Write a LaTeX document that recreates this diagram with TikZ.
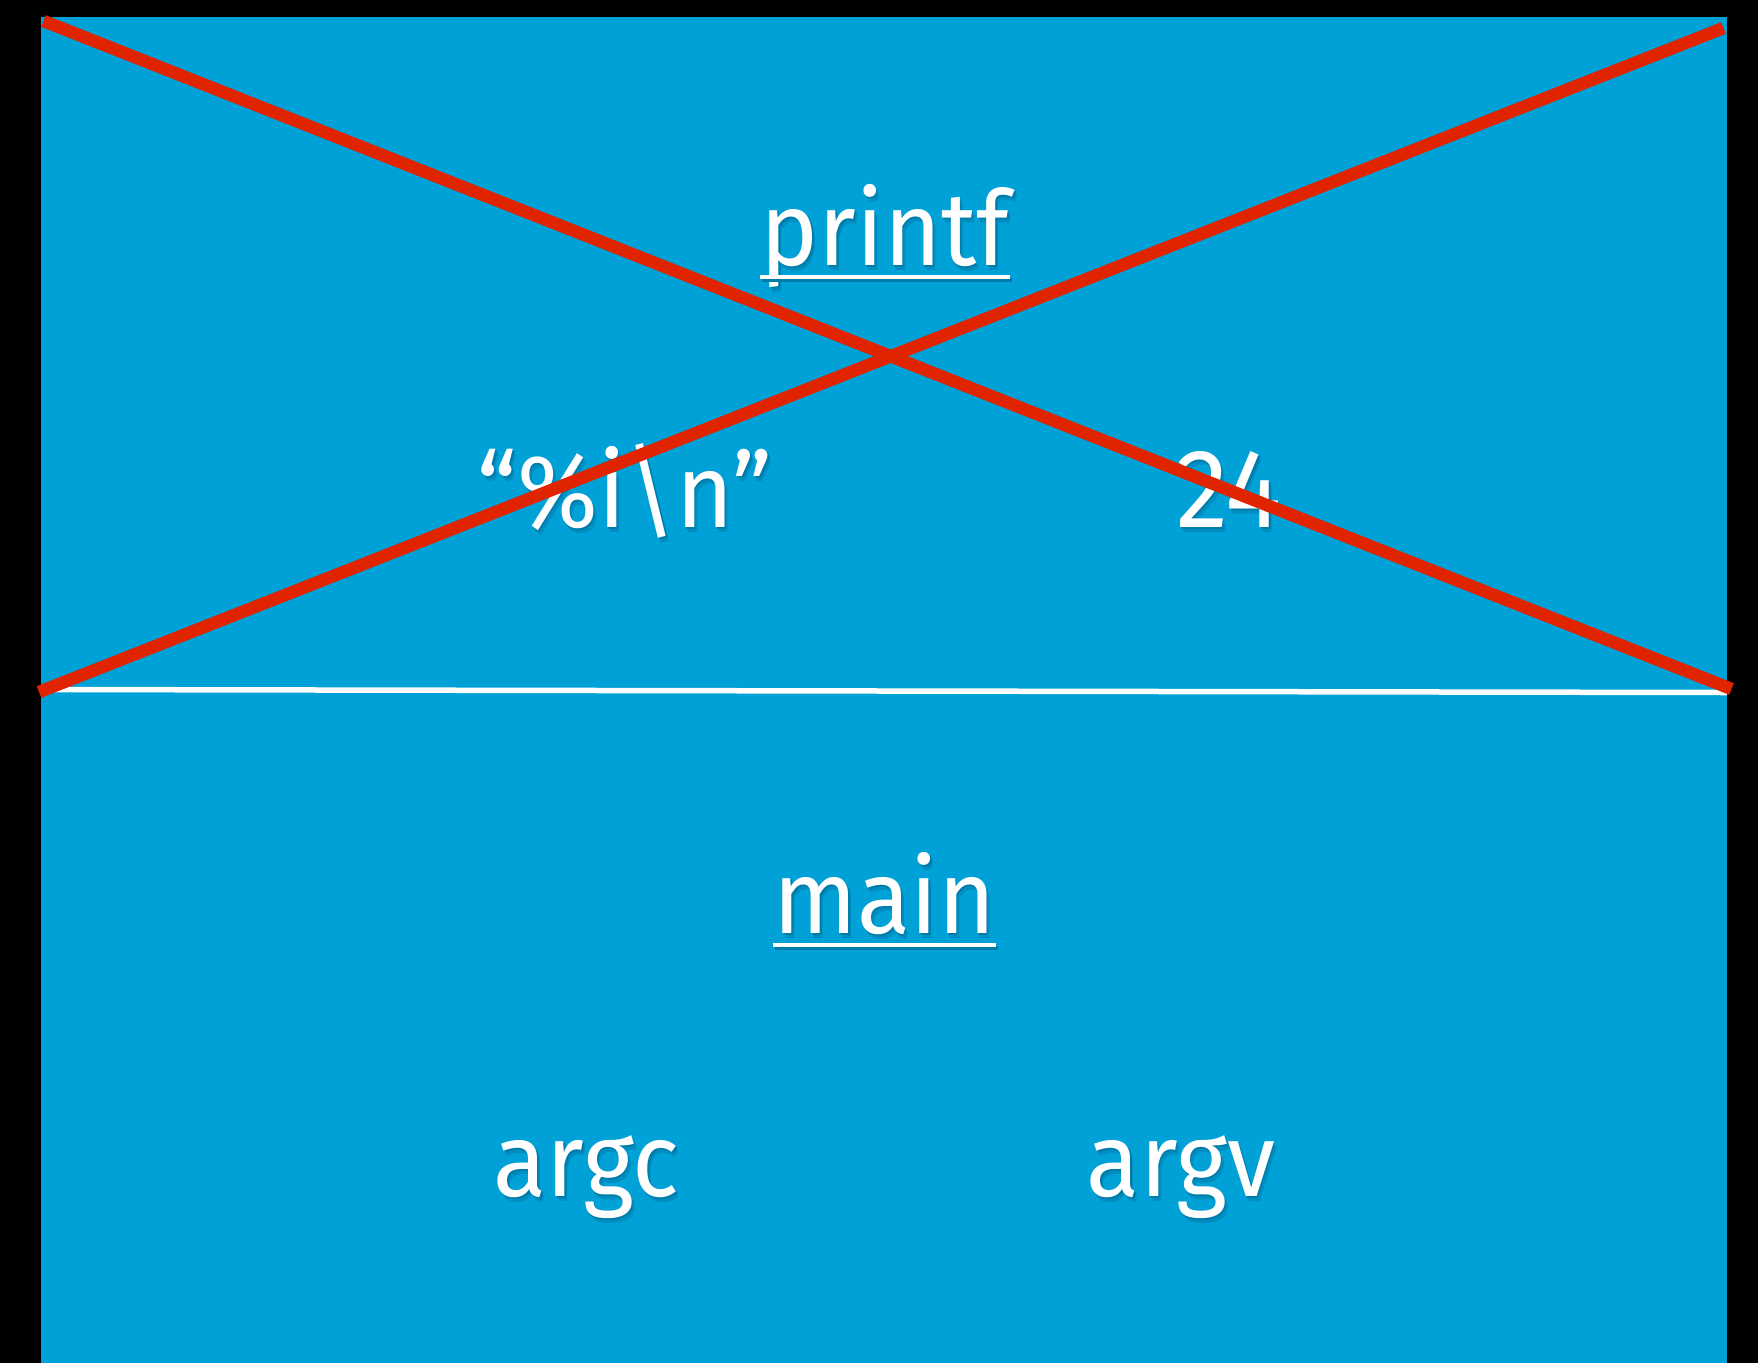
\documentclass[tikz,border=0pt]{standalone}
\usepackage{fontspec}
\setmainfont[FakeStretch=0.94]{Fira Sans}
\definecolor{slide}{RGB}{0,161,214}
\definecolor{cross}{RGB}{224,36,0}
\definecolor{shadefar}{RGB}{0,142,192}
\definecolor{shadenear}{RGB}{0,124,170}
% white lettering with a soft drop shadow underneath
\newcommand\shadowed[1]{\leavevmode
  \rlap{\kern3pt\raisebox{-5pt}{\textcolor{shadefar}{#1}}}%
  \rlap{\kern1.5pt\raisebox{-2.5pt}{\textcolor{shadenear}{#1}}}#1}

\begin{document}
\begin{tikzpicture}[x=1pt,y=-1pt,
  word/.style={text=white, font=\fontsize{104}{110}\selectfont, inner sep=0pt, anchor=base},
  digits/.style={word, font=\fontsize{112}{118}\selectfont},
  rulewhite/.style={white, line width=4pt},
  ruleshade/.style={shadenear, line width=4pt},
  strike/.style={cross, line width=12.5pt, line cap=butt}]
  % page and slide area
  \fill[black] (0,0) rectangle (1758,1363);
  \fill[slide] (41,17) rectangle (1727,1363);

  % divider between the two stack frames
  \coordinate (divL) at (41,689.5);
  \coordinate (divR) at (1727,692.5);
  \draw[white, line width=5.5pt] (divL) -- (divR);

  % upper frame
  \node[word] (printf) at (885,265) {\shadowed{printf}};
  \node[word] (fmt) at (625,527) {\shadowed{“\%i\textbackslash n”}};
  \node[digits] (num) at (1229,527) {\shadowed{24}};

  % lower frame
  \node[word] (main) at (884.5,933) {\shadowed{main}};
  \node[word] (argc) at (586.5,1196) {\shadowed{argc}};
  \node[word] (argv) at (1181,1196) {\shadowed{argv}};

  % underlines of the frame titles
  \foreach \t in {printf, main} {
    \draw[ruleshade] ([xshift=2pt,yshift=-15pt]\t.base west) -- ([xshift=2pt,yshift=-15pt]\t.base east);
    \draw[rulewhite] ([yshift=-12pt]\t.base west) -- ([yshift=-12pt]\t.base east);
  }

  % the upper frame is crossed out
  \coordinate (tl) at (43.5,21);
  \coordinate (br) at (1731.5,689);
  \coordinate (bl) at (39,692);
  \coordinate (tr) at (1723.5,28);
  \draw[strike] (tl) -- (br);
  \draw[strike] (bl) -- (tr);
\end{tikzpicture}
\end{document}
